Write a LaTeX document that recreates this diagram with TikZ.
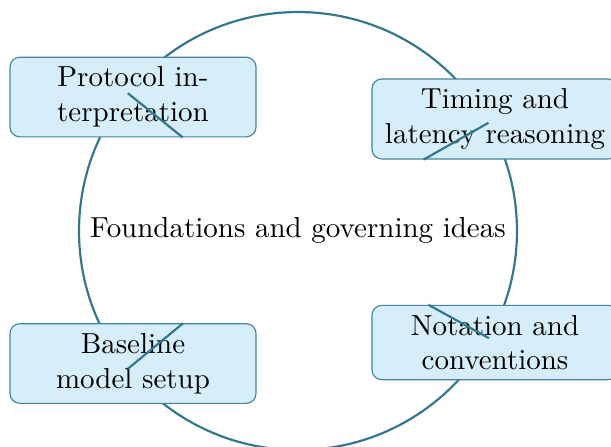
\documentclass[tikz,border=0pt]{standalone}
\usetikzlibrary{calc}
\definecolor{ringteal}{RGB}{52,118,140}
\definecolor{boxedge}{RGB}{70,132,158}
\definecolor{boxfill}{RGB}{214,238,249}
\tikzset{
  topicbox/.style={draw=boxedge, fill=boxfill, line width=0.4pt,
    rounded corners=3.4pt, align=center, minimum width=84.9pt,
    inner xsep=4pt, inner ysep=3.3pt},
  ring/.style={draw=ringteal, line width=0.75pt},
  spoke/.style={draw=ringteal, line width=0.75pt}
}
\begin{document}
\begin{tikzpicture}[x=0.345pt, y=-0.345pt]
  \useasboundingbox (0,0) rectangle (611,446);
  \clip (0,0) rectangle (611,446);

  % central ring and its caption
  \coordinate (o) at (298,231);
  \path[ring] (o) circle[radius=75.55pt];
  \node (core) at (298,230) {Foundations and governing ideas};

  % the four topics around the ring
  \node[topicbox] (proto) at (133,97)    {Protocol in-\\terpretation};
  \node[topicbox] (timing) at (495,119)  {Timing and\\latency reasoning};
  \node[topicbox] (base) at (133,363.5)  {Baseline\\model setup};
  \node[topicbox] (notat) at (495,342.5) {Notation and\\conventions};

  % anchor points on the ring for each topic
  \coordinate (proto-ring)  at ($(o)+(-141:219)$);
  \coordinate (timing-ring) at ($(o)+(-29.6:219)$);
  \coordinate (base-ring)   at ($(o)+(141:219)$);
  \coordinate (notat-ring)  at ($(o)+(29.3:219)$);

  % short spokes from the ring point inward, ending at the box edge
  \foreach \n in {proto,timing,base,notat}{
    \path (o) -- (\n) coordinate[pos=1] (\n-edge);
    \draw[spoke] (\n-ring) -- (\n-edge);
  }
\end{tikzpicture}
\end{document}
